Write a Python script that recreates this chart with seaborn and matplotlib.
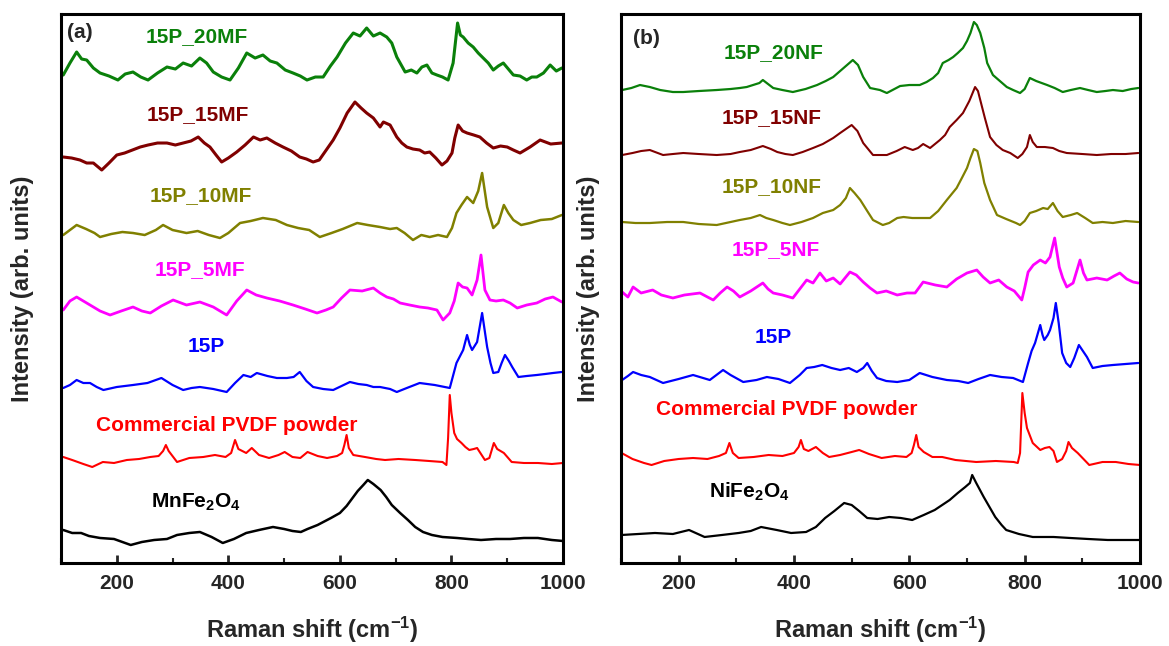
import matplotlib
matplotlib.use("Agg")
import matplotlib.pyplot as plt
from matplotlib.ticker import MultipleLocator
import seaborn as sns

# ---- panel (a): MnFe2O4 series, intensities in arb. units (stacked) ----
mf20_x = [104, 116, 128, 137, 146, 158, 170, 186, 202, 215,
          229, 243, 256, 273, 290, 305, 319, 334, 349, 361,
          373, 388, 403, 418, 433, 448, 462, 475, 487, 502,
          516, 529, 541, 556, 570, 583, 595, 610, 624, 636,
          648, 660, 672, 684, 693, 702, 710, 717, 728, 738,
          747, 756, 765, 774, 784, 794, 803, 811, 816, 821,
          830, 839, 848, 857, 866, 875, 884, 893, 902, 911,
          923, 935, 944, 953, 965, 977, 988, 998]
mf20_y = [488, 500, 511, 504, 503, 495, 490, 487, 483, 489,
          491, 486, 483, 490, 496, 494, 500, 497, 505, 500,
          491, 486, 483, 495, 510, 505, 508, 502, 500, 493,
          490, 487, 483, 486, 486, 497, 506, 520, 530, 527,
          535, 527, 530, 526, 520, 506, 498, 491, 493, 490,
          496, 498, 490, 488, 486, 483, 500, 540, 528, 526,
          520, 516, 510, 505, 500, 493, 497, 500, 494, 488,
          487, 483, 486, 486, 490, 498, 492, 495]

mf15_x = [104, 119, 134, 146, 158, 173, 186, 200, 214, 228,
          242, 256, 273, 290, 305, 319, 333, 346, 357, 367,
          378, 388, 400, 415, 430, 445, 457, 469, 484, 498,
          513, 528, 540, 552, 563, 573, 588, 600, 613, 627,
          638, 648, 660, 672, 678, 690, 702, 711, 720, 731,
          743, 752, 761, 772, 783, 792, 801, 806, 812, 820,
          828, 840, 851, 863, 875, 888, 900, 911, 923, 941,
          959, 978, 998]
mf15_y = [406, 405, 403, 400, 400, 393, 400, 408, 410, 413,
          416, 418, 420, 420, 418, 420, 422, 426, 420, 416,
          408, 401, 405, 411, 418, 426, 423, 425, 420, 416,
          412, 406, 404, 401, 403, 411, 423, 435, 450, 461,
          455, 450, 445, 436, 441, 438, 426, 420, 416, 414,
          413, 410, 411, 405, 398, 402, 410, 425, 438, 432,
          430, 428, 426, 420, 415, 417, 416, 413, 410, 416,
          423, 419, 420]

mf10_x = [104, 116, 128, 145, 160, 170, 190, 210, 229, 250,
          270, 283, 300, 325, 345, 365, 385, 400, 421, 440,
          462, 485, 505, 525, 545, 564, 585, 605, 631, 650,
          672, 690, 702, 716, 731, 746, 761, 776, 792, 801,
          809, 818, 828, 839, 848, 855, 864, 875, 884, 894,
          902, 911, 925, 941, 960, 980, 998]
mf10_y = [328, 333, 338, 334, 330, 326, 329, 331, 330, 328,
          333, 338, 333, 330, 332, 328, 325, 330, 340, 342,
          345, 343, 338, 335, 333, 326, 330, 334, 340, 338,
          336, 334, 335, 330, 323, 328, 326, 328, 326, 335,
          350, 358, 366, 360, 372, 390, 356, 335, 340, 358,
          350, 343, 338, 340, 343, 344, 348]

mf5_x = [104, 116, 128, 140, 152, 170, 188, 208, 229, 245,
         260, 280, 301, 325, 349, 373, 397, 415, 433, 450,
         469, 492, 516, 538, 559, 575, 588, 603, 618, 640,
         660, 672, 684, 696, 708, 725, 743, 758, 774, 785,
         797, 805, 812, 820, 828, 837, 846, 853, 860, 869,
         880, 893, 905, 918, 935, 953, 968, 982, 998]
mf5_y = [253, 262, 266, 262, 258, 252, 248, 252, 256, 252,
         250, 257, 263, 258, 261, 256, 248, 262, 273, 268,
         265, 262, 258, 254, 250, 253, 256, 265, 273, 272,
         275, 270, 266, 264, 260, 258, 256, 255, 253, 243,
         250, 262, 280, 276, 275, 268, 283, 308, 273, 263,
         262, 263, 260, 255, 258, 260, 264, 266, 261]

p15a_x = [104, 116, 128, 140, 152, 164, 176, 200, 229, 255,
          280, 300, 319, 334, 349, 373, 397, 412, 427, 440,
          451, 470, 487, 505, 517, 528, 540, 552, 570, 588,
          603, 618, 633, 648, 660, 672, 690, 702, 720, 743,
          770, 797, 809, 821, 828, 833, 837, 846, 855, 864,
          870, 875, 884, 890, 896, 903, 909, 920, 935, 953,
          968, 982, 998]
p15a_y = [175, 178, 183, 180, 180, 176, 173, 176, 178, 180,
          185, 178, 173, 175, 176, 174, 171, 180, 188, 186,
          190, 187, 185, 185, 186, 191, 182, 176, 174, 173,
          177, 181, 179, 178, 176, 176, 174, 171, 175, 180,
          178, 175, 200, 213, 228, 218, 213, 221, 250, 216,
          200, 190, 191, 200, 208, 202, 196, 186, 187, 188,
          189, 190, 191]

pvdfa_x = [104, 120, 140, 156, 175, 195, 218, 240, 260, 275,
           283, 288, 293, 308, 330, 355, 376, 395, 405, 412,
           418, 432, 442, 455, 473, 490, 501, 515, 529, 542,
           560, 577, 595, 604, 608, 612, 616, 624, 645, 665,
           681, 705, 735, 760, 784, 791, 794, 797, 800, 805,
           810, 818, 825, 832, 840, 846, 853, 860, 868, 876,
           882, 894, 908, 930, 955, 980, 1000]
pvdfa_y = [106, 103, 99, 96, 101, 100, 103, 104, 106, 107,
           112, 118, 112, 101, 105, 106, 108, 106, 110, 123,
           114, 110, 115, 108, 105, 108, 111, 106, 105, 111,
           107, 105, 107, 110, 118, 128, 115, 108, 106, 104,
           103, 104, 103, 102, 101, 98, 125, 168, 150, 130,
           124, 120, 116, 113, 114, 115, 109, 103, 105, 120,
           114, 110, 101, 100, 100, 99, 100]

mnfe_x = [104, 120, 136, 150, 170, 195, 225, 245, 267, 290,
          308, 330, 349, 370, 390, 410, 432, 455, 480, 500,
          515, 530, 542, 560, 584, 600, 612, 620, 632, 642,
          650, 660, 673, 683, 693, 708, 722, 735, 749, 765,
          784, 810, 830, 853, 880, 905, 930, 955, 980, 1000]
mnfe_y = [33, 30, 30, 27, 25, 24, 18, 21, 23, 24,
          28, 30, 31, 26, 20, 24, 30, 33, 36, 34,
          32, 31, 34, 38, 45, 50, 57, 63, 72, 78,
          83, 79, 73, 66, 58, 50, 43, 36, 31, 28,
          26, 25, 24, 23, 24, 24, 25, 25, 23, 22]

# ---- panel (b): NiFe2O4 series ----
nf20_x = [102, 118, 133, 150, 168, 190, 208, 235, 266, 290,
          306, 318, 329, 340, 346, 355, 364, 380, 398, 420,
          440, 455, 468, 480, 492, 502, 511, 520, 532, 549,
          561, 584, 600, 618, 630, 641, 650, 658, 668, 676,
          684, 693, 700, 706, 712, 717, 723, 730, 735, 745,
          757, 769, 780, 792, 800, 809, 820, 839, 852, 866,
          880, 896, 910, 925, 940, 953, 970, 985, 997]
nf20_y = [473, 475, 478, 476, 473, 471, 471, 472, 473, 474,
          475, 476, 478, 480, 483, 479, 475, 473, 471, 474,
          478, 482, 486, 492, 498, 503, 498, 486, 475, 473,
          470, 477, 478, 478, 481, 485, 490, 500, 503, 506,
          510, 515, 522, 530, 541, 538, 530, 515, 500, 488,
          482, 476, 473, 470, 474, 485, 482, 478, 475, 471,
          473, 475, 473, 471, 472, 473, 472, 474, 475]

nf15_x = [102, 120, 135, 150, 173, 190, 208, 235, 266, 290,
          306, 325, 346, 360, 371, 385, 398, 415, 433, 450,
          468, 480, 490, 500, 510, 520, 537, 549, 561, 578,
          592, 606, 615, 624, 636, 653, 662, 670, 682, 693,
          704, 714, 719, 723, 731, 740, 751, 762, 775, 788,
          796, 804, 809, 814, 821, 835, 849, 860, 873, 900,
          925, 950, 975, 997]
nf15_y = [408, 410, 412, 413, 408, 409, 410, 409, 408, 409,
          411, 413, 417, 414, 411, 409, 408, 411, 415, 419,
          425, 430, 434, 438, 432, 420, 408, 408, 408, 412,
          416, 413, 415, 419, 415, 423, 428, 436, 443, 450,
          462, 476, 472, 463, 445, 426, 418, 413, 410, 405,
          409, 416, 428, 421, 416, 416, 415, 412, 410, 409,
          408, 409, 409, 410]

nf10_x = [102, 125, 150, 180, 208, 235, 266, 290, 306, 325,
          341, 352, 364, 380, 393, 413, 433, 450, 468, 480,
          490, 497, 505, 515, 527, 537, 554, 565, 579, 590,
          605, 620, 636, 650, 665, 682, 692, 700, 706, 712,
          718, 723, 730, 740, 752, 768, 785, 792, 800, 809,
          820, 832, 840, 849, 857, 866, 880, 891, 905, 918,
          935, 953, 975, 997]
nf10_y = [341, 340, 340, 341, 341, 339, 338, 341, 343, 345,
          348, 345, 343, 340, 338, 341, 345, 350, 353, 358,
          365, 375, 370, 363, 352, 343, 338, 340, 345, 346,
          345, 345, 345, 352, 363, 375, 386, 395, 405, 414,
          412, 400, 380, 363, 348, 344, 340, 338, 342, 350,
          352, 355, 354, 360, 352, 346, 348, 350, 345, 340,
          341, 340, 342, 341]

nf5_x = [102, 112, 121, 135, 155, 170, 190, 210, 237, 250,
         260, 272, 284, 295, 306, 325, 346, 355, 364, 380,
         398, 410, 422, 433, 445, 456, 468, 480, 497, 508,
         520, 532, 544, 560, 579, 596, 610, 624, 645, 665,
         682, 700, 717, 728, 740, 755, 769, 782, 795, 800,
         806, 815, 827, 836, 844, 852, 860, 866, 873, 884,
         896, 902, 908, 925, 943, 955, 965, 977, 988, 997]
nf5_y = [271, 266, 276, 270, 273, 268, 265, 268, 270, 266,
         263, 270, 276, 272, 266, 272, 280, 274, 270, 268,
         265, 274, 283, 280, 290, 282, 285, 279, 291, 288,
         281, 275, 270, 272, 268, 270, 270, 281, 278, 276,
         284, 290, 293, 286, 280, 283, 276, 272, 263, 275,
         291, 298, 303, 300, 306, 325, 296, 285, 276, 280,
         303, 290, 283, 285, 283, 287, 290, 284, 281, 280]

p15b_x = [102, 112, 121, 135, 150, 173, 200, 225, 254, 277,
          290, 312, 335, 353, 373, 393, 410, 422, 435, 449,
          465, 480, 495, 509, 520, 527, 535, 544, 560, 579,
          600, 618, 640, 665, 685, 702, 720, 740, 760, 780,
          797, 806, 812, 818, 822, 827, 831, 834, 840, 844,
          850, 854, 859, 865, 872, 879, 886, 894, 901, 908,
          918, 935, 953, 975, 997]
p15b_y = [183, 187, 191, 188, 186, 180, 184, 188, 183, 193,
          188, 181, 183, 186, 184, 180, 188, 195, 196, 198,
          195, 193, 195, 191, 195, 200, 192, 185, 182, 181,
          183, 190, 186, 183, 182, 180, 184, 188, 186, 185,
          181, 200, 212, 220, 228, 238, 228, 223, 228, 233,
          245, 260, 240, 210, 200, 196, 205, 218, 212, 206,
          195, 197, 198, 199, 200]

pvdfb_x = [101, 120, 140, 153, 175, 200, 225, 250, 270, 282,
           288, 294, 304, 330, 356, 380, 400, 408, 412, 417,
           425, 438, 450, 461, 480, 500, 513, 530, 552, 575,
           595, 604, 608, 612, 616, 625, 640, 657, 680, 716,
           750, 781, 788, 792, 796, 800, 804, 814, 827, 835,
           843, 850, 856, 865, 872, 876, 882, 892, 912, 935,
           958, 980, 1000]
pvdfb_y = [110, 104, 100, 98, 102, 104, 105, 104, 107, 110,
           120, 110, 105, 106, 108, 107, 110, 116, 123, 114,
           112, 116, 110, 106, 108, 111, 113, 109, 105, 107,
           106, 110, 118, 128, 116, 111, 106, 106, 103, 101,
           102, 101, 100, 110, 170, 150, 135, 120, 113, 115,
           116, 112, 101, 104, 112, 121, 115, 110, 98, 101,
           101, 99, 98]

nife_x = [101, 130, 159, 190, 218, 245, 275, 304, 325, 343,
          370, 395, 421, 438, 454, 470, 487, 500, 513, 527,
          545, 565, 585, 605, 625, 644, 657, 670, 684, 697,
          705, 709, 716, 729, 740, 749, 760, 768, 790, 814,
          850, 879, 910, 944, 975, 1000]
nife_y = [28, 29, 30, 29, 33, 26, 28, 30, 32, 36,
          33, 30, 31, 36, 45, 52, 60, 58, 52, 45,
          44, 46, 45, 43, 48, 53, 58, 63, 70, 76,
          80, 88, 80, 66, 55, 46, 38, 33, 29, 26,
          26, 25, 24, 23, 23, 23]

labels_a = ["15P_20MF", "15P_15MF", "15P_10MF", "15P_5MF", "15P",
            "Commercial PVDF powder", r"MnFe$_2$O$_4$"]
labels_b = ["15P_20NF", "15P_15NF", "15P_10NF", "15P_5NF", "15P",
            "Commercial PVDF powder", r"NiFe$_2$O$_4$"]
colors = ["#0a800a", "#800000", "#808000", "#ff00ff", "#0000ff", "#ff0000", "#000000"]
# noisier spectra look like thick bands in the original
widths_a = [2.2, 2.2, 1.8, 2.0, 1.6, 1.5, 1.8]
widths_b = [1.6, 1.5, 1.6, 2.0, 1.6, 1.5, 1.6]

sns.set_style("ticks")
plt.rcParams["font.family"] = ["Liberation Sans", "DejaVu Sans"]
plt.rcParams["font.weight"] = "bold"
plt.rcParams["axes.labelweight"] = "bold"
plt.rcParams["mathtext.fontset"] = "custom"
plt.rcParams["mathtext.rm"] = "Liberation Sans:bold"
plt.rcParams["mathtext.bf"] = "Liberation Sans:bold"
plt.rcParams["mathtext.default"] = "bf"

fig = plt.figure(figsize=(11.69, 6.46), dpi=100)
ax_a = fig.add_axes([0.0522, 0.1285, 0.4294, 0.8498])
ax_b = fig.add_axes([0.5312, 0.1285, 0.4440, 0.8498])

series_a = [(mf20_x, mf20_y), (mf15_x, mf15_y), (mf10_x, mf10_y), (mf5_x, mf5_y),
            (p15a_x, p15a_y), (pvdfa_x, pvdfa_y), (mnfe_x, mnfe_y)]
series_b = [(nf20_x, nf20_y), (nf15_x, nf15_y), (nf10_x, nf10_y), (nf5_x, nf5_y),
            (p15b_x, p15b_y), (pvdfb_x, pvdfb_y), (nife_x, nife_y)]

# label anchor points (x in cm-1, y in plot units)
pos_a = [(344, 526), (346, 448), (351, 367), (349, 293), (360, 217), (398, 137), (342, 55)]
pos_b = [(364, 510), (362, 445), (362, 376), (369, 313), (364, 226), (388, 153), (322, 65)]

for ax, series, widths, labels, pos, tag, tagpos in [
        (ax_a, series_a, widths_a, labels_a, pos_a, "(a)", (134, 531)),
        (ax_b, series_b, widths_b, labels_b, pos_b, "(b)", (145, 525))]:
    for (xs, ys), c, lw in zip(series, colors, widths):
        sns.lineplot(x=xs, y=ys, ax=ax, color=c, linewidth=lw,
                     estimator=None, sort=False, legend=False)
    for lbl, (tx, ty), c in zip(labels, pos, colors):
        va = "baseline" if "Fe" in lbl else "center"
        ax.text(tx, ty, lbl, color=c, fontsize=15, fontweight="bold",
                ha="center", va=va)
    ax.text(tagpos[0], tagpos[1], tag, fontsize=15, fontweight="bold",
            ha="center", va="center")

    ax.set_xlim(100, 1000)
    ax.set_ylim(0, 549)
    ax.set_yticks([])
    ax.xaxis.set_major_locator(MultipleLocator(200))
    ax.xaxis.set_minor_locator(MultipleLocator(100))
    ax.tick_params(axis="x", which="major", direction="in", length=6, width=2,
                   labelsize=15, pad=8, top=False)
    ax.tick_params(axis="x", which="minor", direction="in", length=3.5, width=1.5,
                   top=False)
    for sp in ax.spines.values():
        sp.set_linewidth(2.2)
        sp.set_color("black")
    ax.set_xlabel(r"Raman shift (cm$^{-1}$)", fontsize=17)
    ax.set_ylabel("Intensity (arb. units)", fontsize=17)

ax_a.xaxis.set_label_coords(0.5, -0.094)
ax_b.xaxis.set_label_coords(0.5, -0.094)
ax_a.yaxis.set_label_coords(-0.054, 0.5)
ax_b.yaxis.set_label_coords(-0.040, 0.5)

fig.savefig("out.png", dpi=100)
